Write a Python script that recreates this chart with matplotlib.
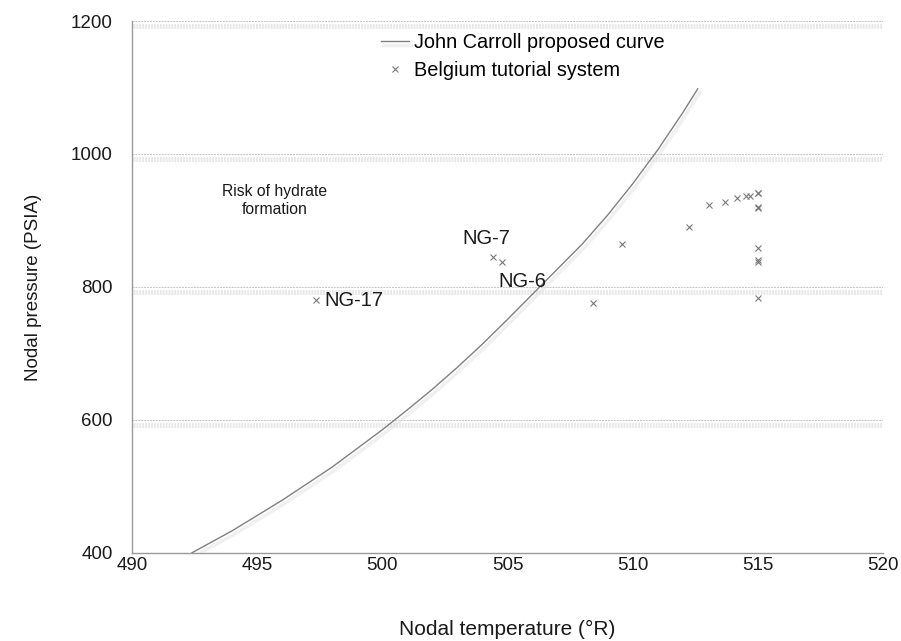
import matplotlib
matplotlib.use("Agg")
import matplotlib.pyplot as plt
import matplotlib.patheffects as pe

plt.rcParams['font.family'] = ['Liberation Sans', 'DejaVu Sans']

# hydrate formation curve (temperature in deg R, pressure in psia)
curve_t = [492.4, 494.0, 496.0, 498.0, 500.0, 501.0, 502.0, 503.0, 504.0,
           505.0, 506.0, 507.0, 508.0, 509.0, 510.0, 511.0, 512.0, 512.6]
curve_p = [400, 433, 479, 529, 585, 615, 646, 679, 714,
           751, 789, 827, 865, 908, 955, 1006, 1062, 1098]

# nodal conditions of the tutorial network
node_t = [497.35, 504.42, 504.78, 508.4, 509.58, 512.24, 513.03, 513.67,
          514.17, 514.52, 514.7, 515.0, 515.0, 515.0, 515.0, 515.0, 515.0,
          515.0, 515.0]
node_p = [780, 845, 837, 776, 865, 890, 923, 928,
          933, 937, 937, 941, 942, 918, 920, 858, 838, 840, 784]

labels = {"NG-17": (0, (6, 0), "left"),
          "NG-7": (1, (-4.5, 13.5), "center"),
          "NG-6": (2, (15, -14), "center")}

fig = plt.figure(figsize=(9.01, 6.41), dpi=100)
ax = fig.add_axes([0.1465, 0.1377, 0.8335, 0.8295])

grid_fx = [pe.SimpleLineShadow(offset=(1, -3.5), shadow_color='#d9d9d9',
                               alpha=0.6, rho=1.0, linewidth=3.5),
           pe.Normal()]
curve_fx = [pe.SimpleLineShadow(offset=(1.5, -2.5), shadow_color='#e2e2e2',
                                alpha=0.5, rho=1.0, linewidth=2.5),
            pe.Normal()]

for p in [600, 800, 1000, 1200]:
    ax.axhline(p, color='#c4c4c4', lw=0.7, ls=(0, (2, 1)), zorder=1,
               path_effects=grid_fx)

ax.plot(curve_t, curve_p, color='#808080', lw=1.0, zorder=3,
        path_effects=curve_fx, label="John Carroll proposed curve")
ax.plot(node_t, node_p, ls='none', marker='x', ms=3.8, mew=0.8,
        color='#7a7a7a', zorder=4, label="Belgium tutorial system")

for name, (i, off, ha) in labels.items():
    ax.annotate(name, (node_t[i], node_p[i]), xytext=off,
                textcoords='offset points', ha=ha, va='center',
                fontsize=14.5, color='#1a1a1a')

ax.text(495.7, 930, "Risk of hydrate\nformation", ha='center', va='center',
        fontsize=11.3, color='#1a1a1a', linespacing=1.25)

ax.set_xlim(490, 520)
ax.set_ylim(400, 1200)
ax.set_xticks(range(490, 521, 5))
ax.set_yticks(range(400, 1201, 200))
ax.tick_params(length=0, labelsize=13.5, colors='#1a1a1a')
ax.tick_params(axis='y', pad=14)
ax.tick_params(axis='x', pad=3)

for side in ['top', 'right']:
    ax.spines[side].set_visible(False)
for side in ['left', 'bottom']:
    ax.spines[side].set_color('#9a9a9a')
    ax.spines[side].set_linewidth(1.0)

ax.set_xlabel("Nodal temperature (\u00b0R)", fontsize=15, labelpad=33,
              color='#1a1a1a')
ax.set_ylabel("Nodal pressure (PSIA)", fontsize=13.5, labelpad=21,
              color='#1a1a1a')

fig.legend(loc='upper left', bbox_to_anchor=(0.423, 0.948), frameon=False,
           fontsize=14.3, handlelength=1.4, handletextpad=0.25,
           borderpad=0, borderaxespad=0, labelspacing=0.45)

fig.savefig("out.png", dpi=100)
